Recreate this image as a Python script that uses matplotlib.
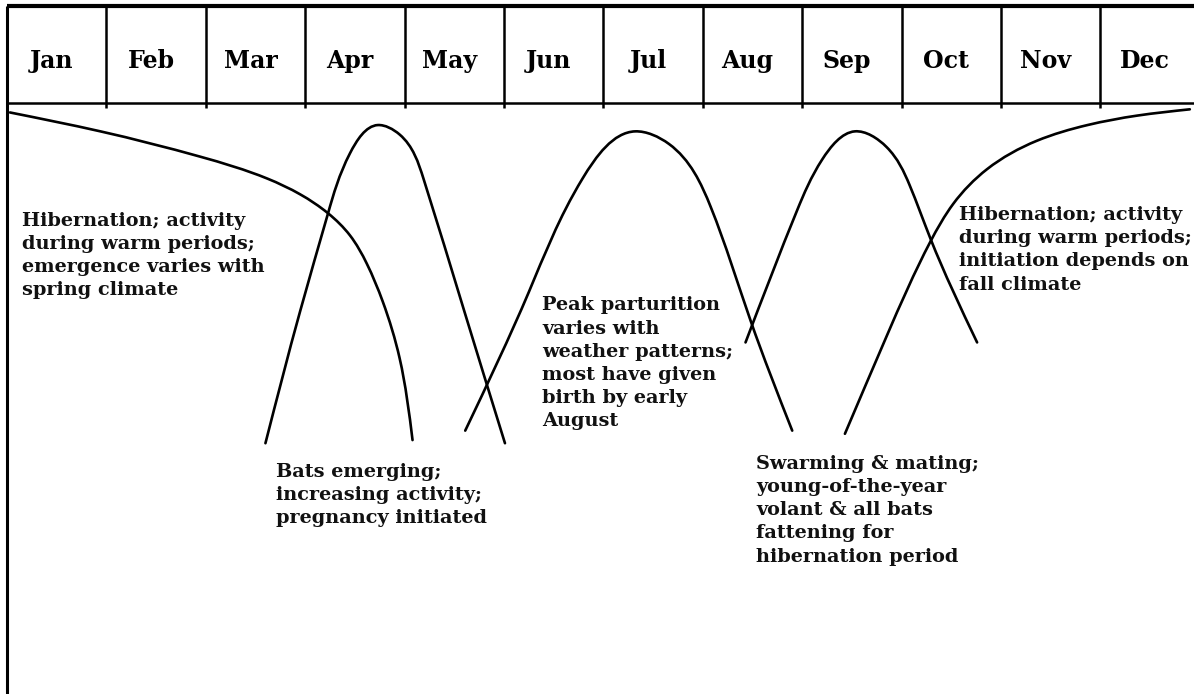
import matplotlib
matplotlib.use("Agg")
import matplotlib.pyplot as plt
import numpy as np
from matplotlib.path import Path
from matplotlib.patches import PathPatch

# ---------------- data ----------------
months = ['Jan', 'Feb', 'Mar', 'Apr', 'May', 'Jun',
          'Jul', 'Aug', 'Sep', 'Oct', 'Nov', 'Dec']

# activity curves: x in months (0 = start of Jan), y = relative activity
hib_spring_x = [0.03, 0.94, 1.94, 2.62, 2.95, 3.23, 3.45, 3.62, 3.78, 3.95, 4.08]
hib_spring_y = [1.04, 0.98, 0.90, 0.83, 0.78, 0.72, 0.65, 0.56, 0.44, 0.26, 0.00]

emerge_x = [2.60, 2.95, 3.23, 3.45, 3.73, 3.95, 4.19, 4.60, 5.01]
emerge_y = [-0.01, 0.41, 0.72, 0.91, 1.00, 0.97, 0.83, 0.41, -0.01]

partur_x = [4.61, 5.25, 5.79, 6.32, 6.66, 7.08, 7.48, 7.90]
partur_y = [0.03, 0.47, 0.83, 0.98, 0.94, 0.74, 0.38, 0.03]

swarm_x = [7.43, 7.95, 8.20, 8.53, 8.85, 9.08, 9.29, 9.76]
swarm_y = [0.31, 0.73, 0.89, 0.98, 0.93, 0.81, 0.64, 0.31]

hib_fall_x = [8.43, 8.85, 9.29, 9.52, 9.86, 10.36, 10.87, 11.37, 11.90]
hib_fall_y = [0.02, 0.33, 0.63, 0.75, 0.86, 0.95, 1.00, 1.03, 1.05]

labels = [
    "Hibernation; activity\nduring warm periods;\nemergence varies with\nspring climate",
    "Bats emerging;\nincreasing activity;\npregnancy initiated",
    "Peak parturition\nvaries with\nweather patterns;\nmost have given\nbirth by early\nAugust",
    "Swarming & mating;\nyoung-of-the-year\nvolant & all bats\nfattening for\nhibernation period",
    "Hibernation; activity\nduring warm periods;\ninitiation depends on\nfall climate",
]
# ---------------- layout ----------------
label_pos = [(0.151, 0.725), (2.706, -0.072), (5.382, 0.456), (7.535, -0.047), (9.577, 0.743)]

FONT = 'DejaVu Serif'
X0, X1 = -0.0704, 11.942
Y0, Y1 = -0.806, 1.397
fig = plt.figure(figsize=(11.94, 6.94), dpi=100)
ax = fig.add_axes([0, 0, 1, 1])
ax.set_xlim(X0, X1)
ax.set_ylim(Y0, Y1)
ax.axis('off')

header_top = 1.378
header_bot = 1.070
div_bot = 1.055

# header frame
ax.plot([0, X1], [header_top, header_top], color='black', lw=3.0, solid_capstyle='butt')
ax.plot([0, X1], [header_bot, header_bot], color='black', lw=1.8, solid_capstyle='butt')
ax.plot([0, 0], [header_top, Y0], color='black', lw=2.2, solid_capstyle='butt')
for i in range(1, 12):
    ax.plot([i, i], [header_top, div_bot], color='black', lw=1.8, solid_capstyle='butt')
for i, m in enumerate(months):
    ax.text(i + 0.45, 1.180, m, ha='center', va='baseline', fontsize=17,
            fontweight='bold', family=FONT)

# pixel scale (for a smooth, aspect-correct curve through the read points)
SX = 1194 / (X1 - X0)
SY = 694 / (Y1 - Y0)


def spline_path(xs, ys):
    """Natural cubic spline through the points (chord-length parameter),
    expressed exactly as cubic Bezier segments."""
    P = np.column_stack([np.asarray(xs) * SX, np.asarray(ys) * SY])
    n = len(P)
    h = np.sqrt(((P[1:] - P[:-1]) ** 2).sum(axis=1))
    A = np.zeros((n, n))
    B = np.zeros((n, 2))
    A[0, 0] = 2 * h[0]; A[0, 1] = h[0]
    B[0] = 3 * (P[1] - P[0])
    A[-1, -1] = 2 * h[-1]; A[-1, -2] = h[-1]
    B[-1] = 3 * (P[-1] - P[-2])
    for i in range(1, n - 1):
        A[i, i - 1] = h[i]
        A[i, i] = 2 * (h[i - 1] + h[i])
        A[i, i + 1] = h[i - 1]
        B[i] = 3 * (h[i] / h[i - 1] * (P[i] - P[i - 1]) + h[i - 1] / h[i] * (P[i + 1] - P[i]))
    D = np.linalg.solve(A, B)  # derivatives w.r.t. chord parameter
    verts = [P[0]]
    codes = [Path.MOVETO]
    for i in range(n - 1):
        c1 = P[i] + D[i] * h[i] / 3.0
        c2 = P[i + 1] - D[i + 1] * h[i] / 3.0
        verts += [c1, c2, P[i + 1]]
        codes += [Path.CURVE4] * 3
    V = np.array(verts)
    V[:, 0] /= SX
    V[:, 1] /= SY
    return Path(V, codes)


for xs, ys in [(hib_spring_x, hib_spring_y), (emerge_x, emerge_y),
               (partur_x, partur_y), (swarm_x, swarm_y), (hib_fall_x, hib_fall_y)]:
    ax.add_patch(PathPatch(spline_path(xs, ys), fill=False, edgecolor='black',
                           lw=1.9, capstyle='round', joinstyle='round'))

for (x, y), t in zip(label_pos, labels):
    ax.text(x, y, t, ha='left', va='top', fontsize=13.9, fontweight='bold',
            family=FONT, linespacing=1.37, color='#111111')

fig.savefig('out.png', dpi=100, facecolor='white')
